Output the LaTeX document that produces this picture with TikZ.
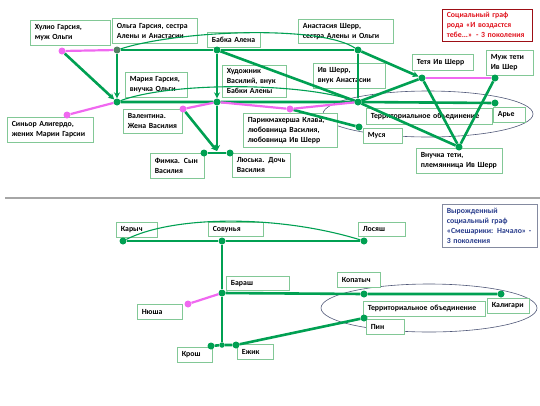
\documentclass[tikz,border=0pt]{standalone}
\usepackage{fontspec}
\setmainfont{Carlito}
\usetikzlibrary{arrows.meta}
\definecolor{kingreen} {RGB}{0,   160, 82}
\definecolor{lovepink} {RGB}{240, 104, 240}
\definecolor{boxgreen} {RGB}{130, 200, 150}
\definecolor{mixgray}  {RGB}{84,  128, 100}
\definecolor{ovalgray} {RGB}{80,  88,  120}
\definecolor{titlered} {RGB}{225, 20,  30}
\definecolor{titleblue}{RGB}{40,  60,  140}
\newcommand{\lblfont}{\bfseries\fontsize{7.8}{10}\selectfont}

\begin{document}
\begin{tikzpicture}[
  x=1pt, y=-1pt,
  >={Stealth[length=6pt, width=6pt]},
  lbl/.style={draw=boxgreen, fill=white, line width=0.6pt, anchor=north west,
    align=left, inner xsep=4.5pt, inner ysep=1.5pt, font=\lblfont},
  kin/.style={kingreen, line width=2.6pt},
  love/.style={lovepink, line width=2.2pt},
  bond/.style={kingreen, line width=1.1pt},
  dot/.style={circle, fill=kingreen, inner sep=0pt, minimum size=7pt},
  pdot/.style={dot, fill=lovepink},
  oval/.style={ovalgray, line width=0.6pt},
]
\useasboundingbox (0,0) rectangle (540,405);

%% ─── 座標系 ────────────────────────────────────────────────
%%  1 unit = 1 px,  y は下向き
%%  上段: 「И воздастся тебе」  y ∈ [0, 190]
%%  下段: 「Смешарики: Начало」 y ∈ [200, 405]

% ── 区切り線 ────────────────────────────────────────────────
\draw[gray!70, line width=1.3pt] (5,198) -- (540,198);

% ════════════════════════════════════════════════════════════
%  上段
% ════════════════════════════════════════════════════════════

% ── 地域のまとまり（楕円） ──────────────────────────────────
\draw[oval] (428,114) ellipse [x radius=105pt, y radius=23pt];

% ── ラベル ──────────────────────────────────────────────────
\node[lbl, text width=71pt, minimum height=25pt] (hulioL) at (30,20)
  {Хулио Гарсия,\\муж Ольги};
\node[lbl, text width=76pt, minimum height=25pt] (olgaL) at (112,18)
  {Ольга Гарсия, сестра\\Алены и Анастасии};
\node[lbl, text width=44pt, minimum height=15pt] (babkaL) at (207,32)
  {Бабка Алена};
\node[lbl, text width=86pt, minimum height=24pt] (anastL) at (298,19)
  {Анастасия Шерр,\\сестра Алены и Ольги};
\node[lbl, draw=titlered!70!black, text=titlered, text width=81pt,
  minimum height=32pt] (titleA) at (442,9)
  {Социальный граф\\рода «И воздастся\\тебе...» - 3 поколения};
\node[lbl, text width=52pt, minimum height=16pt] (tetyaL) at (412,54)
  {Тетя Ив Шерр};
\node[lbl, text width=38pt, minimum height=25pt] (muzhL) at (486,50)
  {Муж тети\\Ив Шер};
\node[lbl, text width=63pt, minimum height=25pt] (ivL) at (313,63)
  {Ив Шерр,\\внук Анастасии};
\node[lbl, text width=53pt, minimum height=25pt] (mariaL) at (125,72)
  {Мария Гарсия,\\внучка Ольги};
\node[lbl, text width=55pt, minimum height=32pt] (hudL) at (222,65)
  {Художник\\Василий, внук\\Бабки Алены};
\node[lbl, text width=77pt, minimum height=25pt] (signorL) at (7,117)
  {Синьор Алигердо,\\жених Марии Гарсии};
\node[lbl, text width=50pt, minimum height=24pt] (valentL) at (123,109)
  {Валентина.\\Жена Василия};
\node[lbl, text width=85pt, minimum height=34pt] (klavaL) at (243,113)
  {Парикмахерша Клава,\\любовница Василия,\\любовница Ив Шерр};
\node[lbl, text width=45pt, minimum height=25pt] (fimkaL) at (150,153)
  {Фимка. Сын\\Василия};
\node[lbl, text width=49pt, minimum height=24pt] (luskaL) at (232,153)
  {Люська. Дочь\\Василия};
\node[lbl, text width=117pt, minimum height=16pt] (terrL) at (366,108)
  {Территориальное объединение};
\node[lbl, text width=23pt, minimum height=15pt] (arieL) at (493,107)
  {Арье};
\node[lbl, text width=30pt, minimum height=15pt] (musyaL) at (363,128)
  {Муся};
\node[lbl, text width=77pt, minimum height=25pt] (vnuchL) at (416,148)
  {Внучка тети,\\племянница Ив Шерр};

% ── 人物の点 ────────────────────────────────────────────────
\node[pdot] (hulio)  at (62,51)  {};
\node[dot, fill=mixgray] (olga) at (117,50) {};
\node[dot]  (babka)  at (217,50) {};
\node[dot]  (anast)  at (358,50) {};
\node[dot]  (tetya)  at (422,78) {};
\node[dot]  (muzh)   at (495,78) {};
\node[dot]  (maria)  at (117,102) {};
\node[dot]  (vasily) at (217,102) {};
\node[dot]  (ivsherr) at (358,102) {};
\node[dot]  (arie)   at (495,103) {};
\node[pdot] (signor) at (67,115) {};
\node[pdot] (valent) at (183,109) {};
\node[pdot] (klava)  at (290,109) {};
\node[dot]  (musya)  at (359,127) {};
\node[dot]  (fimka)  at (204,153) {};
\coordinate (vkids) at (217,151);
\node[dot]  (luska)  at (230,153) {};
\node[dot]  (vnuch)  at (459,147) {};

% ── 血縁（緑の太線） ────────────────────────────────────────
\draw[kin] (olga) -- (babka) -- (anast);
\draw[kin, ->] (olga) -- (maria);
\draw[kin, ->] (hulio) -- (maria);
\draw[kin, ->] (babka) -- (vasily);
\draw[kin] (babka) -- (ivsherr);
\draw[kin] (anast) -- (ivsherr);
\draw[kin, ->] (anast) -- (tetya);
\draw[kin] (maria) -- (vasily) -- (ivsherr) -- (arie);
\draw[kin, ->] (vasily) -- (vkids);
\draw[kin, ->] (valent) -- (vkids);
\draw[kin] (fimka) -- (luska);
\draw[kin] (klava) -- (musya);
\draw[kin] (ivsherr) -- (tetya);
\draw[kin] (ivsherr) -- (vnuch);
\draw[kin] (tetya) -- (vnuch);
\draw[kin] (muzh) -- (vnuch);

% ── 兄弟・いとこの弧 ───────────────────────────────────────
\draw[bond] (olga) .. controls (180,30) and (320,25) .. (anast);
\draw[bond] (maria) .. controls (170,82) and (300,82) .. (ivsherr);

% ── 配偶・恋人（ピンク） ────────────────────────────────────
\draw[love] (hulio) -- (olga);
\draw[love] (signor) -- (maria);
\draw[love] (valent) -- (vasily);
\draw[love] (vasily) -- (klava) -- (ivsherr);
\draw[love] (tetya) -- (muzh);

% ════════════════════════════════════════════════════════════
%  下段
% ════════════════════════════════════════════════════════════

\draw[oval] (429,308) ellipse [x radius=108pt, y radius=24pt];

% ── ラベル ──────────────────────────────────────────────────
\node[lbl, text width=32pt, minimum height=15pt] (karychL) at (116,222)
  {Карыч};
\node[lbl, text width=46pt, minimum height=14pt] (sovunyaL) at (208,222)
  {Совунья};
\node[lbl, text width=38pt, minimum height=14pt] (losyashL) at (358,222)
  {Лосяш};
\node[lbl, draw=ovalgray!70, text=titleblue, text width=86pt,
  minimum height=43pt] (titleB) at (442,204)
  {Вырожденный\\социальный граф\\«Смешарики: Начало» -\\3 поколения};
\node[lbl, text width=54pt, minimum height=14pt] (barashL) at (226,276)
  {Бараш};
\node[lbl, text width=36pt, minimum height=15pt] (nyushaL) at (137,304)
  {Нюша};
\node[lbl, text width=34pt, minimum height=15pt] (kopatychL) at (337,272)
  {Копатыч};
\node[lbl, text width=113pt, minimum height=15pt] (terr2L) at (363,301)
  {Территориальное объединение};
\node[lbl, text width=33pt, minimum height=15pt] (kaligariL) at (487,298)
  {Калигари};
\node[lbl, text width=29pt, minimum height=15pt] (pinL) at (366,319)
  {Пин};
\node[lbl, text width=26pt, minimum height=15pt] (kroshL) at (177,347)
  {Крош};
\node[lbl, text width=27pt, minimum height=15pt] (ezhikL) at (237,344)
  {Ежик};

% ── 人物の点 ────────────────────────────────────────────────
\node[dot]  (karych)   at (123,241) {};
\node[dot]  (sovunya)  at (222,241) {};
\node[dot]  (losyash)  at (364,241) {};
\node[dot]  (barash)   at (222,293) {};
\node[pdot] (nyusha)   at (188,304) {};
\node[dot]  (kopatych) at (364,294) {};
\node[dot]  (kaligari) at (501,294) {};
\node[dot]  (pin)      at (364,318) {};
\node[dot]  (krosh)    at (211,346) {};
\node[dot, minimum size=5.5pt] (kids) at (222,345) {};
\node[dot]  (ezhik)    at (236,345) {};

% ── つながり ────────────────────────────────────────────────
\draw[kin] (karych) -- (sovunya) -- (losyash);
\draw[kin] (sovunya) -- (barash) -- (kids);
\draw[kin] (barash) -- (kopatych) -- (kaligari);
\draw[kin] (krosh) -- (kids) -- (ezhik);
\draw[kin] (ezhik) -- (pin);
\draw[bond] (karych) .. controls (175,215) and (280,215) .. (losyash);
\draw[love] (nyusha) -- (barash);

\end{tikzpicture}
\end{document}
